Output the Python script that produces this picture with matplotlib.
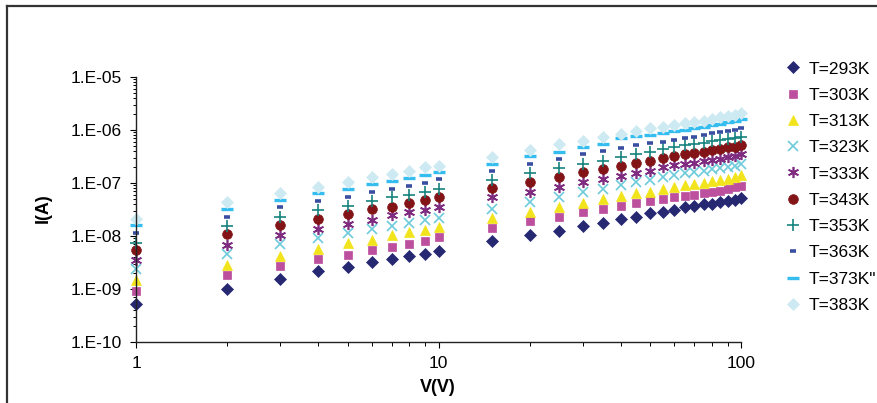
import numpy as np
import matplotlib.pyplot as plt
from matplotlib.lines import Line2D
from matplotlib.ticker import LogLocator, FuncFormatter, NullFormatter

plt.rcParams['font.family'] = ['Liberation Sans', 'DejaVu Sans']

V = [1, 2, 3, 4, 5, 6, 7, 8, 9, 10, 15, 20, 25, 30, 35, 40, 45, 50,
     55, 60, 65, 70, 75, 80, 85, 90, 95, 100]

I_293 = [5.2e-10, 1.0e-9, 1.52e-9, 2.16e-9, 2.64e-9, 3.19e-9, 3.73e-9, 4.26e-9, 4.57e-9, 5.28e-9,
         8.05e-9, 1.03e-8, 1.26e-8, 1.55e-8, 1.78e-8, 2.06e-8, 2.31e-8, 2.68e-8,
         2.87e-8, 3.08e-8, 3.47e-8, 3.68e-8, 4.0e-8, 4.1e-8, 4.4e-8, 4.5e-8, 4.8e-8, 5.2e-8]
I_303 = [9.3e-10, 1.84e-9, 2.75e-9, 3.63e-9, 4.43e-9, 5.44e-9, 6.3e-9, 7.1e-9, 8.2e-9, 9.4e-9,
         1.41e-8, 1.89e-8, 2.29e-8, 2.84e-8, 3.18e-8, 3.63e-8, 4.25e-8, 4.5e-8,
         5.0e-8, 5.5e-8, 5.7e-8, 6.0e-8, 6.4e-8, 6.8e-8, 7.2e-8, 7.6e-8, 8.3e-8, 8.8e-8]
I_313 = [1.45e-9, 2.84e-9, 4.2e-9, 5.6e-9, 7.3e-9, 8.4e-9, 1.03e-8, 1.17e-8, 1.3e-8, 1.46e-8,
         2.15e-8, 2.87e-8, 3.47e-8, 4.25e-8, 4.9e-8, 5.7e-8, 6.4e-8, 6.8e-8,
         7.8e-8, 8.5e-8, 9.1e-8, 9.6e-8, 1.02e-7, 1.08e-7, 1.14e-7, 1.2e-7, 1.28e-7, 1.42e-7]
I_323 = [2.34e-9, 4.57e-9, 6.97e-9, 9.1e-9, 1.12e-8, 1.33e-8, 1.55e-8, 1.78e-8, 2.0e-8, 2.15e-8,
         3.22e-8, 4.45e-8, 5.5e-8, 6.8e-8, 7.8e-8, 9.1e-8, 1.05e-7, 1.14e-7,
         1.32e-7, 1.42e-7, 1.52e-7, 1.62e-7, 1.7e-7, 1.8e-7, 1.9e-7, 2.0e-7, 2.12e-7, 2.3e-7]
I_333 = [3.5e-9, 6.7e-9, 1.03e-8, 1.33e-8, 1.69e-8, 2.0e-8, 2.5e-8, 2.84e-8, 3.1e-8, 3.47e-8,
         5.4e-8, 6.9e-8, 8.5e-8, 1.05e-7, 1.19e-7, 1.38e-7, 1.57e-7, 1.7e-7,
         2.0e-7, 2.15e-7, 2.3e-7, 2.4e-7, 2.56e-7, 2.7e-7, 2.86e-7, 3.05e-7, 3.2e-7, 3.5e-7]
I_343 = [5.4e-9, 1.07e-8, 1.6e-8, 2.13e-8, 2.6e-8, 3.18e-8, 3.57e-8, 4.15e-8, 4.8e-8, 5.5e-8,
         8.1e-8, 1.06e-7, 1.31e-7, 1.62e-7, 1.84e-7, 2.12e-7, 2.4e-7, 2.63e-7,
         2.9e-7, 3.2e-7, 3.5e-7, 3.6e-7, 3.9e-7, 4.2e-7, 4.45e-7, 4.7e-7, 4.85e-7, 5.1e-7]
I_353 = [7.5e-9, 1.55e-8, 2.3e-8, 3.1e-8, 3.7e-8, 4.65e-8, 5.4e-8, 6.0e-8, 6.9e-8, 7.6e-8,
         1.14e-7, 1.52e-7, 1.94e-7, 2.24e-7, 2.63e-7, 3.05e-7, 3.5e-7, 3.9e-7,
         4.3e-7, 4.85e-7, 5.1e-7, 5.45e-7, 5.75e-7, 6.1e-7, 6.45e-7, 6.7e-7, 7.1e-7, 7.5e-7]
I_363 = [1.15e-8, 2.25e-8, 3.47e-8, 4.5e-8, 5.5e-8, 6.8e-8, 7.7e-8, 8.9e-8, 1.02e-7, 1.17e-7,
         1.7e-7, 2.3e-7, 2.8e-7, 3.5e-7, 3.95e-7, 4.57e-7, 5.1e-7, 5.6e-7,
         6.0e-7, 6.6e-7, 7.0e-7, 7.3e-7, 8.05e-7, 8.7e-7, 9.2e-7, 9.7e-7, 1.02e-6, 1.07e-6]
I_373 = [1.6e-8, 3.18e-8, 4.8e-8, 6.4e-8, 7.6e-8, 9.5e-8, 1.1e-7, 1.23e-7, 1.42e-7, 1.63e-7,
         2.3e-7, 3.2e-7, 3.9e-7, 4.85e-7, 5.5e-7, 7.2e-7, 7.6e-7, 8.0e-7,
         8.9e-7, 9.6e-7, 1.0e-6, 1.07e-6, 1.15e-6, 1.22e-6, 1.3e-6, 1.4e-6, 1.5e-6, 1.58e-6]
I_383 = [2.06e-8, 4.35e-8, 6.6e-8, 8.5e-8, 1.05e-7, 1.28e-7, 1.48e-7, 1.66e-7, 1.98e-7, 2.1e-7,
         3.13e-7, 4.1e-7, 5.4e-7, 6.2e-7, 7.5e-7, 8.4e-7, 9.6e-7, 1.07e-6,
         1.15e-6, 1.24e-6, 1.34e-6, 1.41e-6, 1.5e-6, 1.63e-6, 1.74e-6, 1.84e-6, 1.95e-6, 2.13e-6]

labels = ["T=293K", "T=303K", "T=313K", "T=323K", "T=333K", "T=343K",
          "T=353K", "T=363K", "T=373K\"", "T=383K"]
series = [I_293, I_303, I_313, I_323, I_333, I_343, I_353, I_363, I_373, I_383]

# marker, color, size, edge width
styles = [
    ('D', '#262872', 6.0, 0.5),
    ('s', '#BC4F9E', 6.0, 0.5),
    ('^', '#F2E41C', 7.5, 0.5),
    ('x', '#6DCBDA', 7.0, 1.2),
    ((6, 2, 0), '#7E2B80', 8.0, 1.2),
    ('o', '#821417', 7.0, 0.5),
    ('+', '#16837E', 8.0, 1.2),
    ('_', '#3A4FA2', 4.5, 2.6),
    ('_', '#36BDEF', 8.0, 2.4),
    ('D', '#CDE9F2', 6.5, 0.5),
]

fig = plt.figure(figsize=(8.78, 4.03), dpi=100)
ax = fig.add_axes([0.1549, 0.1514, 0.6895, 0.6576])

for y, lab, (m, c, ms, mew) in zip(series, labels, styles):
    ax.plot(V, y, linestyle='none', marker=m, color=c, markersize=ms,
            markeredgewidth=mew, markeredgecolor=c, label=lab, clip_on=False)

ax.set_xscale('log')
ax.set_yscale('log')
ax.set_xlim(1, 100)
ax.set_ylim(1e-10, 1e-5)

ax.xaxis.set_major_locator(LogLocator(base=10, numticks=10))
ax.xaxis.set_minor_locator(LogLocator(base=10, subs=np.arange(2, 10), numticks=20))
ax.xaxis.set_minor_formatter(NullFormatter())
ax.xaxis.set_major_formatter(FuncFormatter(lambda v, p: "%d" % round(v)))
ax.yaxis.set_major_locator(LogLocator(base=10, numticks=10))
ax.yaxis.set_minor_locator(LogLocator(base=10, subs=np.arange(2, 10), numticks=20))
ax.yaxis.set_minor_formatter(NullFormatter())
ax.yaxis.set_major_formatter(FuncFormatter(lambda v, p: "1.E-%02d" % round(-np.log10(v))))

for s in ['top', 'right']:
    ax.spines[s].set_visible(False)
for s in ['left', 'bottom']:
    ax.spines[s].set_linewidth(1.0)
    ax.spines[s].set_color('#222222')

ax.tick_params(which='major', direction='out', length=4, width=0.8, labelsize=12.5, pad=6)
ax.tick_params(which='minor', direction='out', length=2.5, width=0.7)
ax.tick_params(axis='x', which='minor', length=3.2)

ax.set_xlabel("V(V)", fontsize=13, fontweight='bold')
ax.set_ylabel("I(A)", fontsize=13, fontweight='bold')
ax.xaxis.label.set_va('center')
ax.yaxis.label.set_va('center')
ax.xaxis.set_label_coords(0.499, -0.17)
ax.yaxis.set_label_coords(-0.154, 0.506)

ax.legend(loc='upper left', bbox_to_anchor=(0.885, 0.865), bbox_transform=fig.transFigure,
          frameon=False, fontsize=12.5, handlelength=1.0, handletextpad=0.4,
          labelspacing=0.64, borderaxespad=0)

# outer frame lines (left and top)
fig.add_artist(Line2D([7.5 / 878, 7.5 / 878], [0, 1 - 5.5 / 403], transform=fig.transFigure,
                      color='#333333', linewidth=1.6))
fig.add_artist(Line2D([7.5 / 878, 1], [1 - 5.5 / 403, 1 - 5.5 / 403], transform=fig.transFigure,
                      color='#333333', linewidth=1.6))

fig.savefig("out.png", dpi=100)
